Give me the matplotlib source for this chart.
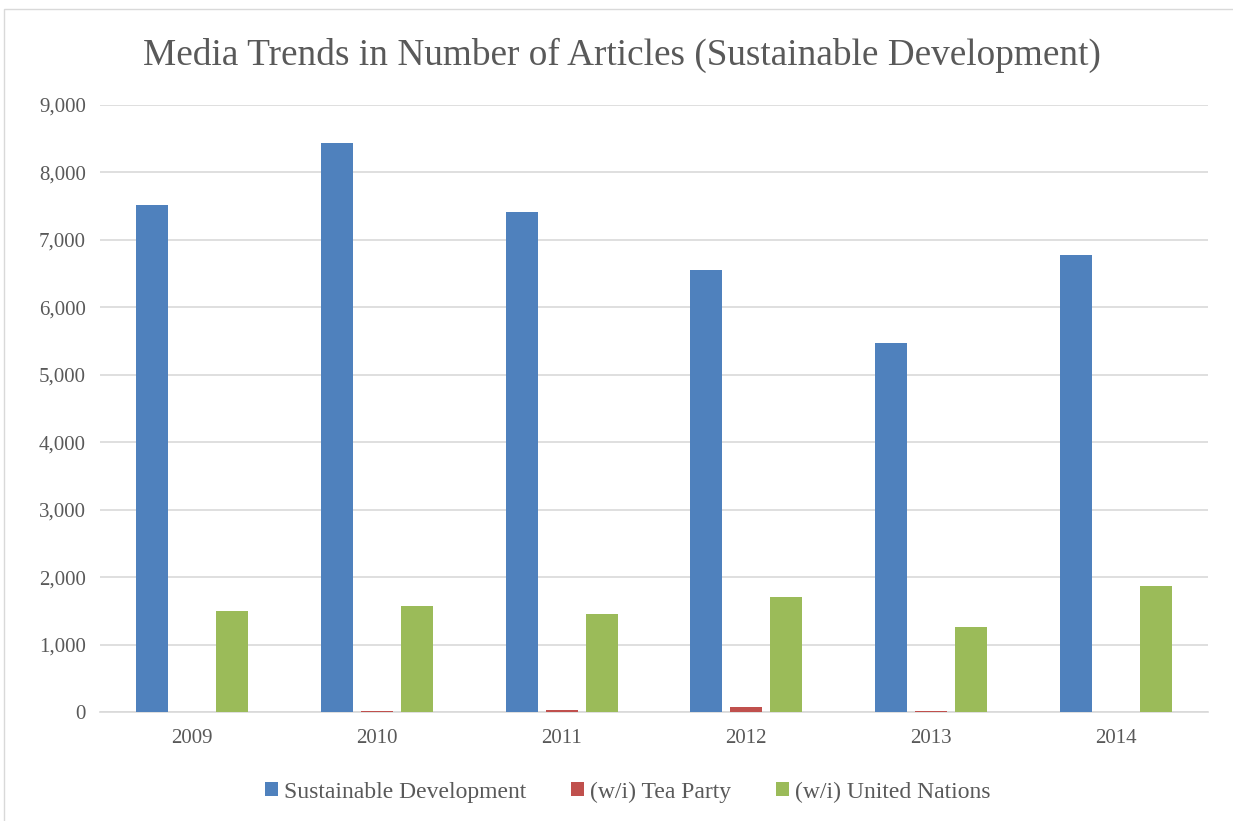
import matplotlib.pyplot as plt
from matplotlib.patches import Rectangle
from matplotlib.ticker import FuncFormatter
import numpy as np

years = ['2009', '2010', '2011', '2012', '2013', '2014']
sustainable = [7510, 8430, 7410, 6560, 5470, 6770]
tea_party = [3, 12, 32, 70, 18, 6]
united_nations = [1495, 1570, 1450, 1705, 1262, 1868]

series = [
    ('Sustainable Development', sustainable, '#4F81BD'),
    ('(w/i) Tea Party', tea_party, '#C0504D'),
    ('(w/i) United Nations', united_nations, '#9BBB59'),
]

plt.rcParams['font.family'] = ['Liberation Serif', 'DejaVu Serif']
text_color = '#595959'

fig = plt.figure(figsize=(12.33, 8.21), dpi=100)
ax = fig.add_axes([100 / 1233, 1 - 712 / 821, 1108 / 1233, 607 / 821])

# chart area border
fig.patches.append(Rectangle((4 / 1233, -0.01), 1.1, 1 - 9 / 821 + 0.01,
                             transform=fig.transFigure, fill=False,
                             edgecolor='#D9D9D9', linewidth=1.0))

x = np.arange(len(years))
width = 0.173
stride = 0.216
for i, (name, vals, color) in enumerate(series):
    ax.bar(x + (i - 1) * stride, vals, width, color=color, label=name,
           linewidth=0, zorder=3)

ax.set_xlim(-0.5, 5.5)
ax.set_ylim(0, 9000)
ax.set_yticks(range(0, 9001, 1000))
ax.yaxis.set_major_formatter(FuncFormatter(lambda v, p: f'{int(v):,}'))
ax.set_xticks(x)
ax.set_xticklabels(years)
ax.grid(axis='y', color='#D9D9D9', linewidth=1.2, zorder=0)
ax.tick_params(axis='both', length=0, labelsize=15, colors=text_color)
ax.tick_params(axis='x', pad=12)
ax.tick_params(axis='y', pad=10)
for s in ['top', 'right', 'left']:
    ax.spines[s].set_visible(False)
ax.spines['bottom'].set_color('#D9D9D9')
ax.spines['bottom'].set_linewidth(1.2)

fig.text(622 / 1233, 1 - 55 / 821,
         'Media Trends in Number of Articles (Sustainable Development)',
         ha='center', va='center', fontsize=26.8, color=text_color)

leg = fig.legend(loc='center', bbox_to_anchor=(628 / 1233, 1 - 792 / 821),
                 ncol=3, frameon=False, fontsize=17, handlelength=0.55,
                 handleheight=0.55, handletextpad=0.25, columnspacing=1.9)
for t in leg.get_texts():
    t.set_color(text_color)

fig.savefig('out.png', dpi=100)
